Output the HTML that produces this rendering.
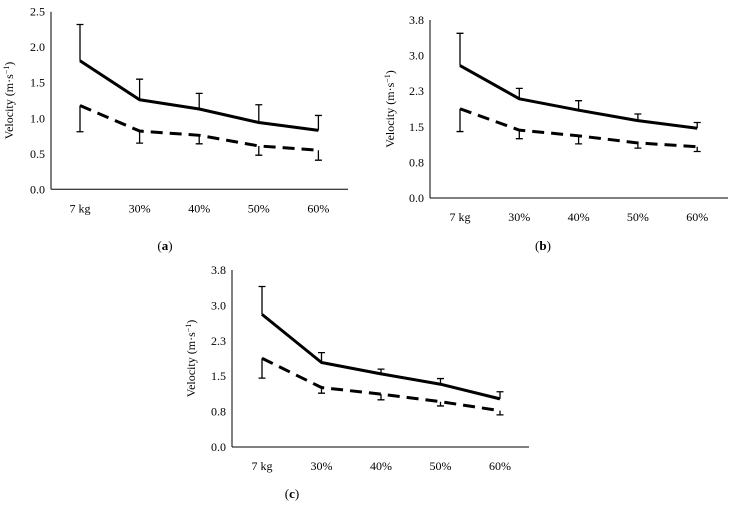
<!DOCTYPE html>
<html><head><meta charset="utf-8">
<style>
html,body{margin:0;padding:0;background:#fff;}
svg{display:block;font-family:"Liberation Serif",serif;}
</style></head>
<body>
<svg id="chart" width="736" height="505" viewBox="0 0 736 505" xmlns="http://www.w3.org/2000/svg"></svg>
<script>
const categories = ["7 kg","30%","40%","50%","60%"];
// Panel a
const aSolid = [1.81,1.26,1.13,0.94,0.83];
const aSolidErr = [2.32,1.55,1.35,1.19,1.04];
const aDash = [1.18,0.82,0.76,0.61,0.55];
const aDashErr = [0.81,0.65,0.64,0.48,0.41];
const aTicks = ["0.0","0.5","1.0","1.5","2.0","2.5"];
// Panel b
const bSolid = [2.79,2.09,1.85,1.63,1.47];
const bSolidErr = [3.47,2.31,2.05,1.77,1.59];
const bDash = [1.88,1.43,1.31,1.16,1.08];
const bDashErr = [1.40,1.25,1.14,1.05,0.98];
const bTicks = ["0.0","0.8","1.5","2.3","3.0","3.8"];
// Panel c
const cSolid = [2.81,1.79,1.55,1.33,1.02];
const cSolidErr = [3.40,2.00,1.65,1.45,1.17];
const cDash = [1.88,1.26,1.12,0.96,0.77];
const cDashErr = [1.46,1.14,1.00,0.87,0.68];
const cTicks = ["0.0","0.8","1.5","2.3","3.0","3.8"];

const NS="http://www.w3.org/2000/svg";
const svg=document.getElementById('chart');
function mk(tag,attrs,parent){const e=document.createElementNS(NS,tag);for(const k in attrs)e.setAttribute(k,attrs[k]);(parent||svg).appendChild(e);return e;}

function panel(id,cfg,solid,solidErr,dash,dashErr,ticks){
  const g=mk('g',{});
  
  
  const yS=v=>cfg.y0-(v/cfg.max)*(cfg.y0-cfg.yTop);
  const xS=i=>cfg.cx0+i*cfg.dx;
  const ya=mk('line',{x1:cfg.ax,y1:cfg.yTop,x2:cfg.ax,y2:cfg.y0,stroke:'#000','stroke-width':1},g);
  
  
  const xa=mk('line',{x1:cfg.ax,y1:cfg.y0,x2:cfg.axEnd,y2:cfg.y0,stroke:'#000','stroke-width':1},g);
  
  
  ticks.forEach((t,i)=>{
    const v=i*cfg.max/(ticks.length-1);
    const tx=mk('text',{x:cfg.ax-6,y:yS(v)+4,'text-anchor':'end','font-size':12,fill:'#000'},g);
    tx.textContent=t;
    
    
  });
  categories.forEach((c,i)=>{
    const tx=mk('text',{x:xS(i),y:cfg.y0+23,'text-anchor':'middle','font-size':12,fill:'#000'},g);
    tx.textContent=c;
    
    
  });
  const tt=mk('text',{x:0,y:0,'text-anchor':'middle','font-size':12,fill:'#000',transform:`translate(${cfg.titleX},${(cfg.yTop+cfg.y0)/2}) rotate(-90)`},g);
  tt.innerHTML='Velocity (m·s<tspan dy="-4" font-size="8">−1</tspan><tspan dy="4">)</tspan>';
  
  
  solid.forEach((v,i)=>{
    const x=xS(i);
    const e=mk('path',{d:`M${x},${yS(v)}V${yS(solidErr[i])}M${x-3.5},${yS(solidErr[i])}H${x+3.5}`,stroke:'#000','stroke-width':1.3,fill:'none'},g);
    
    
  });
  dash.forEach((v,i)=>{
    const x=xS(i);
    const e=mk('path',{d:`M${x},${yS(v)}V${yS(dashErr[i])}M${x-3.5},${yS(dashErr[i])}H${x+3.5}`,stroke:'#000','stroke-width':1.3,fill:'none'},g);
    
    
  });
  const s=mk('polyline',{points:solid.map((v,i)=>xS(i)+','+yS(v)).join(' '),fill:'none',stroke:'#000','stroke-width':3,'stroke-linejoin':'round'},g);
  
  
  const d=mk('polyline',{points:dash.map((v,i)=>xS(i)+','+yS(v)).join(' '),fill:'none',stroke:'#000','stroke-width':3,'stroke-dasharray':'12,7'},g);
  
  
  const lb=mk('text',{x:cfg.labX,y:cfg.labY,'text-anchor':'middle','font-size':13,fill:'#000'},g);
  lb.innerHTML='(<tspan font-weight="bold">'+id+'</tspan>)';
  
  
}
panel('a',{ax:51,axEnd:348,yTop:11.7,y0:189.3,max:2.5,cx0:80,dx:59.6,titleX:13,labX:165,labY:250},aSolid,aSolidErr,aDash,aDashErr,aTicks);
panel('b',{ax:430,axEnd:728,yTop:20,y0:198,max:3.75,cx0:460,dx:59.3,titleX:394,labX:543,labY:250},bSolid,bSolidErr,bDash,bDashErr,bTicks);
panel('c',{ax:232,axEnd:529,yTop:270,y0:447,max:3.75,cx0:262,dx:59.5,titleX:195,labX:292,labY:498},cSolid,cSolidErr,cDash,cDashErr,cTicks);
</script>
</body></html>
